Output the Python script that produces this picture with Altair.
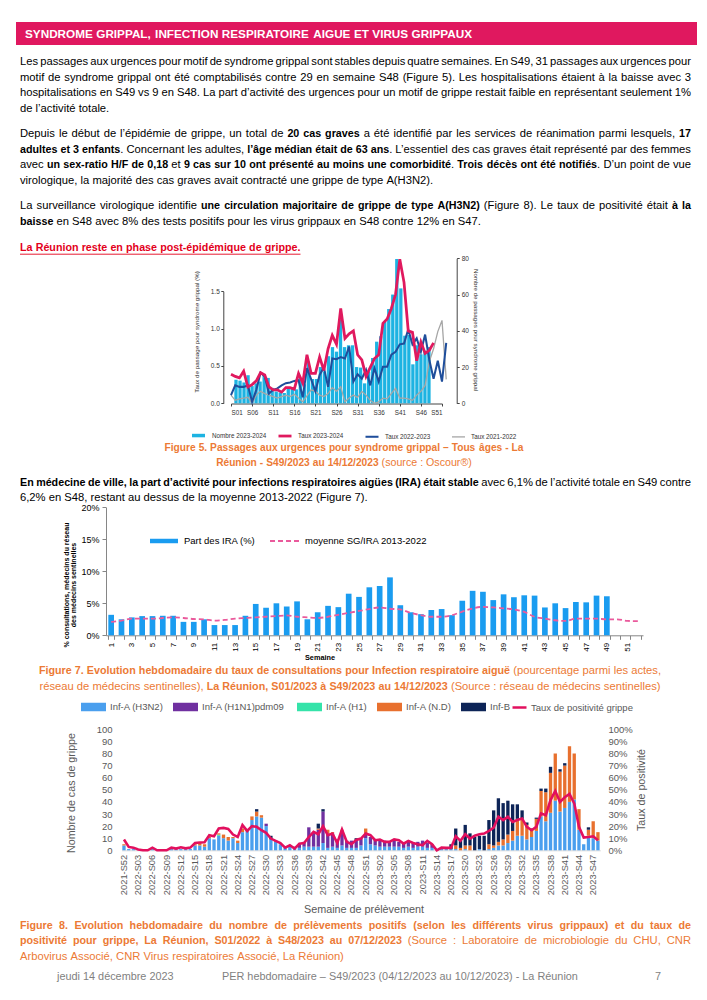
import statistics
import unicodedata
import altair as alt
import pandas as pd

FONT = "Liberation Sans"
OFF = 8
W, H = 691, 984

# ---------------- Figure 5 data ----------------
fig5_series = ["Nombre 2023-2024", "Taux 2023-2024", "Taux 2022-2023", "Taux 2021-2022"]
fig5_colors = ["#1DB3E2", "#E0195E", "#1F4E9B", "#A6A6A6"]
nombre_2023_2024 = [13, 12.5, 11.5, 15.5, 9.5, 11, 12, 16, 14, 8.5, 6.5, 6, 5.7, 8.3, 8.3, 7.7, 14, 10.5,
                    23, 13.4, 13.4, 20, 17.5, 26, 31, 28.5, 46, 31, 32, 32, 20, 19.7, 11, 17.5, 25, 34,
                    37, 45, 52, 60, 79.6, 63.4, 37.3, 37.7, 21.5, 32, 27, 29, 31]
taux_2023_2024 = [0.39, 0.36, 0.34, 0.43, 0.22, 0.25, 0.30, 0.41, 0.38, 0.22, 0.18, 0.18, 0.15, 0.21,
                  0.21, 0.19, 0.40, 0.27, 0.65, 0.40, 0.40, 0.62, 0.44, 0.73, 0.91, 0.79, 1.27, 0.87,
                  0.93, 0.97, 0.65, 0.58, 0.36, 0.48, 0.60, 0.65, 1.07, 1.13, 1.27, 1.46, 1.93, 1.62,
                  0.97, 0.95, 0.57, 0.82, 0.67, 0.71, 0.81]
taux_2022_2023 = [0.11, 0.24, 0.22, 0.22, 0.24, 0.02, 0.18, 0.41, 0.36, 0.13, 0.18, 0.20, 0.24, 0.27,
                  0.28, 0.30, 0.31, 0.08, 0.47, 0.32, 0.16, 0.38, 0.48, 0.22, 0.60, 0.59, 0.62, 0.60,
                  0.76, 0.29, 0.39, 0.33, 0.45, 0.24, 0.47, 0.29, 0.49, 0.49, 0.65, 0.69, 0.79, 0.80,
                  0.99, 0.79, 0.87, 0.69, 0.92, 0.58, 0.33, 0.57, 0.29, 0.81]
taux_2021_2022 = [0.11, 0.04, 0.06, 0.07, 0.08, 0.00, 0.11, 0.16, 0.13, 0.11, 0.09, 0.07, 0.09, 0.11,
                  0.09, 0.12, 0.07, 0.02, 0.10, 0.18, 0.16, 0.11, 0.09, 0.13, 0.21, 0.16, 0.22, 0.02,
                  0.07, 0.11, 0.08, 0.16, 0.11, 0.04, 0.00, 0.02, 0.07, 0.06, 0.13, 0.20, 0.07, 0.07,
                  0.06, 0.04, 0.11, 0.16, 0.24, 0.56, 0.73, 0.96, 1.11, 0.32]
fig5_ticks = [1, 6, 11, 16, 21, 26, 31, 36, 41, 46, 51]

# ---------------- Figure 7 data ----------------
fig7_weeks = [1, 2, 3, 4, 5, 6, 7, 8, 9, 10, 11, 12, 13, 14, 15, 16, 17, 18, 19, 20, 21, 22, 23, 24, 25, 26,
              27, 28, 29, 30, 31, 32, 33, 34, 35, 36, 37, 38, 39, 40, 41, 42, 43, 44, 45, 46, 47, 48, 49,
              50, 51, 52]
part_ira = [3.2, 2.5, 2.8, 3.0, 3.0, 3.05, 3.05, 2.1, 2.1, 2.5, 1.6, 1.6, 1.6, 3.05, 4.9, 4.3, 5.0, 4.5,
            5.3, 2.5, 3.6, 4.6, 4.4, 6.5, 6.0, 7.5, 7.7, 9.05, 4.7, 3.6, 3.3, 3.95, 4.1, 3.15, 5.4, 6.95,
            6.8, 5.5, 6.4, 5.95, 6.25, 6.2, 4.35, 5.0, 4.25, 5.2, 5.15, 6.2, 6.1]
moyenne_2013_2022 = [2.1, 2.3, 2.6, 2.6, 2.6, 2.7, 2.8, 2.7, 2.55, 2.5, 2.3, 2.4, 2.6, 2.7, 2.8, 2.9, 3.0,
                     3.1, 2.9, 2.8, 2.7, 2.9, 3.2, 3.5, 3.8, 4.1, 4.35, 4.15, 4.05, 3.5, 3.15, 2.9, 2.9,
                     3.15, 3.7, 4.2, 4.45, 4.35, 4.2, 4.05, 3.65, 2.9, 2.6, 2.35, 2.25, 2.6, 2.6, 2.6, 2.5,
                     2.5, 2.25, 2.2]

# ---------------- Figure 8 data ----------------
fig8_weeks = (["2021-S52"] + ["2022-S%02d" % w for w in range(1, 53)] + ["2023-S%02d" % w for w in range(1, 49)])
fig8_types = ["Inf-A (H3N2)", "Inf-A  (H1N1)pdm09", "Inf-A (H1)", "Inf-A (N.D)", "Inf-B"]
fig8_colors = ["#4A9FEE", "#7030A0", "#35E3A9", "#E8702E", "#0D2457"]
inf_h3n2 = [4, 1, 1, 0, 0, 0, 1, 0, 0, 0, 1, 1, 1, 1, 1, 4, 4, 3, 10, 9,
            12, 10, 8, 10, 6, 15, 16, 25, 28, 27, 20, 9, 7, 5, 2, 3, 2, 2, 3, 3,
            3, 3, 6, 2, 3, 2, 4, 2, 2, 2, 4, 10, 5, 4, 3, 3, 3, 3, 3, 2,
            3, 2, 3, 3, 2, 2, 1, 1, 1, 1, 1, 0, 1, 0, 0, 1, 0, 1, 2, 4,
            4, 6, 8, 12, 12, 9, 11, 16, 28, 24, 31, 41, 32, 35, 40, 42, 17, 5, 12, 10, 8]
inf_h1n1 = [0, 0, 0, 0, 0, 0, 0, 0, 0, 0, 0, 0, 0, 0, 0, 0, 0, 0, 0, 0,
            0, 0, 0, 0, 0, 0, 0, 0, 0, 0, 2, 0, 0, 0, 0, 0, 1, 3, 4, 16,
            12, 14, 26, 12, 11, 7, 12, 6, 6, 6, 6, 3, 6, 5, 5, 5, 4, 5, 4, 4,
            5, 4, 4, 5, 4, 3, 0, 0, 0, 0, 0, 0, 0, 0, 0, 0, 0, 0, 0, 0,
            0, 0, 0, 0, 0, 0, 0, 0, 0, 0, 0, 0, 0, 0, 0, 0, 0, 0, 0, 0, 0]
inf_h1 = [0, 0, 0, 0, 0, 0, 0, 0, 0, 0, 0, 0, 0, 0, 0, 0, 0, 0, 0, 0,
          1, 0, 0, 0, 0, 0, 0, 0, 0, 0, 0, 0, 0, 0, 0, 0, 0, 0, 0, 0,
          0, 0, 0, 0, 0, 0, 0, 0, 0, 0, 0, 0, 0, 0, 0, 0, 0, 0, 0, 0,
          0, 0, 0, 0, 0, 0, 0, 0, 0, 0, 0, 0, 0, 0, 0, 0, 0, 0, 0, 0,
          0, 0, 0, 0, 0, 0, 0, 0, 0, 0, 0, 0, 0, 0, 0, 0, 0, 0, 0, 0, 0]
inf_nd = [1, 0, 0, 0, 0, 0, 0, 0, 0, 0, 0, 0, 0, 0, 0, 1, 2, 2, 1, 0,
          1, 3, 3, 1, 2, 3, 1, 3, 4, 2, 0, 0, 1, 0, 0, 0, 0, 0, 0, 0,
          0, 1, 0, 3, 1, 0, 1, 0, 0, 0, 0, 5, 0, 0, 0, 0, 0, 0, 0, 0,
          0, 0, 0, 0, 0, 0, 0, 0, 1, 0, 3, 2, 3, 4, 0, 0, 0, 4, 2, 3,
          5, 7, 8, 14, 14, 12, 5, 10, 21, 24, 33, 39, 33, 35, 46, 38, 17, 0, 5, 14, 7]
inf_b = [0, 0, 0, 0, 0, 0, 0, 0, 0, 0, 0, 0, 0, 0, 0, 0, 0, 0, 0, 0,
         0, 0, 0, 0, 0, 0, 0, 0, 2, 0, 0, 3, 0, 0, 0, 0, 0, 0, 0, 0,
         0, 4, 2, 0, 0, 0, 0, 0, 0, 2, 0, 0, 0, 0, 0, 0, 0, 0, 0, 0,
         0, 0, 0, 0, 0, 0, 0, 1, 0, 4, 14, 6, 17, 10, 11, 11, 12, 20, 29, 36,
         30, 28, 22, 12, 7, 2, 2, 1, 2, 3, 5, 0, 2, 2, 0, 0, 0, 0, 2, 0, 0]
taux_positivite = [8.9, 2.8, 2.2, 0.6, 0, 0, 2.2, 0, 0, 0, 2.2, 1.4, 2.5, 1.6, 2.2, 6, 6.4, 6.6, 12.5, 11.6,
                   18, 18.5, 17.7, 13, 11, 20.8, 16, 20, 19.4, 16.6, 14.4, 9.7, 7.8, 6, 2.2, 4.2, 1.4, 5.5, 6, 11,
                   15.2, 13.3, 20, 12.5, 13.8, 6, 17.2, 7, 5, 8.6, 9.7, 13.8, 12.5, 8.3, 8.9, 7, 7, 9, 8.3, 5.5,
                   7.8, 6, 5, 4.2, 7.8, 5, 0, 2.2, 2, 2, 11.6, 7.8, 13.3, 9.7, 12, 13.3, 13.8, 16, 18.8, 27.7,
                   25, 27.7, 23.5, 25, 26.3, 19.4, 16.6, 19.4, 30.5, 29, 41.5, 49, 40, 43.8, 46.5, 38.8, 19.4,
                   10.5, 11, 11.6, 8.3]

# ---------------- text content ----------------
def B(s):
    return (s, True)


def R(s):
    return (s, False)


HEADER = "SYNDROME GRIPPAL, INFECTION RESPIRATOIRE AIGUE ET VIRUS GRIPPAUX"
P1 = [[R("Les passages aux urgences pour motif de syndrome grippal sont stables depuis quatre semaines. En S49, 31 passages aux urgences pour")],
      [R("motif de syndrome grippal ont été comptabilisés contre 29 en semaine S48 (Figure 5). Les hospitalisations étaient à la baisse avec 3")],
      [R("hospitalisations en S49 vs 9 en S48. La part d’activité des urgences pour un motif de grippe restait faible en représentant seulement 1%")],
      [R("de l’activité totale.")]]
P2 = [[R("Depuis le début de l’épidémie de grippe, un total de "), B("20 cas graves"), R(" a été identifié par les services de réanimation parmi lesquels, "), B("17")],
      [B("adultes et 3 enfants"), R(". Concernant les adultes, "), B("l’âge médian était de 63 ans"), R(". L’essentiel des cas graves était représenté par des femmes")],
      [R("avec "), B("un sex-ratio H/F de 0,18"), R(" et "), B("9 cas sur 10 ont présenté au moins une comorbidité"), R(". "), B("Trois décès ont été notifiés"), R(". D’un point de vue")],
      [R("virologique, la majorité des cas graves avait contracté une grippe de type A(H3N2).")]]
P3 = [[R("La surveillance virologique identifie "), B("une circulation majoritaire de grippe de type A(H3N2)"), R(" (Figure 8). Le taux de positivité était "), B("à la")],
      [B("baisse"), R(" en S48 avec 8% des tests positifs pour les virus grippaux en S48 contre 12% en S47.")]]
RED_LINE = "La Réunion reste en phase post-épidémique de grippe."
CAP5 = [[B("Figure 5. Passages aux urgences pour syndrome grippal – Tous âges - La")],
        [B("Réunion - S49/2023 au 14/12/2023"), R(" (source : Oscour®)")]]
P4 = [[B("En médecine de ville, la part d’activité pour infections respiratoires aigües (IRA) était stable"), R(" avec 6,1% de l’activité totale en S49 contre")],
      [R("6,2% en S48, restant au dessus de la moyenne 2013-2022 (Figure 7).")]]
CAP7 = [[B("Figure 7. Evolution hebdomadaire du taux de consultations pour Infection respiratoire aiguë"), R(" (pourcentage parmi les actes,")],
        [R("réseau de médecins sentinelles), "), B("La Réunion, S01/2023 à S49/2023 au 14/12/2023"), R(" (Source : réseau de médecins sentinelles)")]]
CAP8 = [[B("Figure 8. Evolution hebdomadaire du nombre de prélèvements positifs (selon les différents virus grippaux) et du taux de")],
        [B("positivité pour grippe, La Réunion, S01/2022 à S48/2023 au 07/12/2023"), R(" (Source : Laboratoire de microbiologie du CHU, CNR")],
        [R("Arbovirus Associé, CNR Virus respiratoires Associé, La Réunion)")]]
FOOTER = ["jeudi 14 décembre 2023", "PER hebdomadaire – S49/2023 (04/12/2023 au 10/12/2023) - La Réunion", "7"]

# ---------------- text metrics (Liberation Sans = Arial metrics) ----------------
def _mk(pairs):
    d = {}
    for chars, w in pairs:
        for c in chars:
            d[c] = w
    return d


REG = _mk([(" !,./:;I[]ft", 278), ("ijl", 222), ("r()-", 333), ("ckstvxyzJ", 500),
           ("abdeghnopqu0123456789L–?_", 556), ("w", 722), ("mM", 833), ("ABEKPSVXY", 667),
           ("CDHNRU", 722), ("FTZ", 611), ("GOQ", 778), ("W", 944), ("%", 889), ("'", 191),
           ("’‘", 222), ("®", 737)])
REG["s"] = 500
REG["t"] = 278
BOLD = _mk([(" ,./Iijl", 278), (":;!ft()-", 333), ("r", 389), ("z", 500),
            ("acekvxy0123456789J–s", 556), ("bdghnopquLFTZ?", 611), ("EPSVXY", 667),
            ("ABCDHKNRU", 722), ("wGOQ", 778), ("M", 833), ("m%", 889), ("W", 944), ("'", 238),
            ("’‘", 278), ("®", 737)])
BOLD["t"] = 333
BOLD["f"] = 333
BOLD_SCALE = 0.955   # Liberation bold is relatively wider than the original's bold face


def cw(c, bold):
    tab = BOLD if bold else REG
    if c in tab:
        return tab[c]
    base = unicodedata.normalize("NFD", c)[0]
    return tab.get(base, 556)


def text_w(s, bold, fs):
    return sum(cw(c, bold) for c in s) / 1000.0 * fs


def run_fs(fs, bold):
    return fs * BOLD_SCALE if bold else fs


def words_of(segs):
    chars = [(c, b) for t, b in segs for c in t]
    words, cur = [], []
    for c, b in chars:
        if c == " ":
            if cur:
                words.append(cur)
                cur = []
        else:
            cur.append((c, b))
    if cur:
        words.append(cur)
    out = []
    for w in words:
        runs = []
        for c, b in w:
            if runs and runs[-1][1] == b:
                runs[-1][0] += c
            else:
                runs.append([c, b])
        out.append(runs)
    return out


TEXT_L, TEXT_R = 20, 691
rows = []


def place(segs, y, fs, color, mode, x0=TEXT_L, x1=TEXT_R, cx=None):
    words = words_of(segs)
    ww = [sum(text_w(t, b, run_fs(fs, b)) for t, b in w) for w in words]
    sp = text_w(" ", False, fs)
    if mode == "justify" and len(words) > 1:
        gap = (x1 - x0 - sum(ww)) / (len(words) - 1)
        x = x0
    elif mode == "center":
        gap = sp
        x = cx - (sum(ww) + sp * (len(words) - 1)) / 2
    else:
        gap = sp
        x = x0
    start = x
    for w, wid in zip(words, ww):
        xx = x
        for t, b in w:
            f = run_fs(fs, b)
            rows.append(dict(x=xx - OFF, y=y - OFF, text=t, bold=b, size=f, color=color))
            xx += text_w(t, b, f)
        x += wid + gap
    return start, x - gap


def natural_em(segs):
    words = words_of(segs)
    return (sum(sum(text_w(t, b, run_fs(1, b)) for t, b in w) for w in words)
            + text_w(" ", False, 1) * (len(words) - 1))


just = [l for p in (P1, P2, P3, P4) for l in p[:-1]]
FS = round(statistics.median([(TEXT_R - TEXT_L) / natural_em(l) for l in just]), 2)

BLACK, ORANGE, REDC, GRAYF = "#000000", "#EC7A35", "#E3001B", "#7F7F7F"
LINE = 15.6


def paragraph(lines, y0, color=BLACK):
    for i, l in enumerate(lines):
        place(l, y0 + i * LINE, FS, color, "justify" if i < len(lines) - 1 else "left")


paragraph(P1, 62.0)
paragraph(P2, 134.2)
paragraph(P3, 206.4)
red_x0, red_x1 = place([B(RED_LINE)], 247.5, FS, REDC, "left")
place(CAP5[0], 447.7, FS * 0.95, ORANGE, "center", cx=344)
place(CAP5[1], 463.3, FS * 0.95, ORANGE, "center", cx=344)
paragraph(P4, 482.8)
place(CAP7[0], 671.0, FS, ORANGE, "center", cx=350)
place(CAP7[1], 686.6, FS, ORANGE, "center", cx=350)
for i, l in enumerate(CAP8):
    place(l, 925.5 + i * LINE, FS, ORANGE, "justify" if i < 2 else "left")
FFS = round(356 / text_w(FOOTER[1], False, 1), 2)
place([R(FOOTER[0])], 976.5, FFS, GRAYF, "left", x0=57)
place([R(FOOTER[1])], 976.5, FFS, GRAYF, "left", x0=222)
place([R(FOOTER[2])], 976.5, FFS, GRAYF, "left", x0=655)
HFS = round(447 / text_w(HEADER, True, 1), 2)
place([B(HEADER)], 33.8, HFS / BOLD_SCALE, "#FFFFFF", "left", x0=25)

tdf = pd.DataFrame(rows)


def text_layer(df, bold):
    return alt.Chart(df).mark_text(align="left", baseline="middle", font=FONT,
                                   fontWeight="bold" if bold else "normal").encode(
        x=alt.X("x:Q", scale=None, axis=None),
        y=alt.Y("y:Q", scale=None, axis=None),
        text="text:N",
        size=alt.Size("size:Q", scale=None, legend=None),
        color=alt.Color("color:N", scale=None, legend=None))


def label(text, x, y, size, color, angle=0, bold=False, align="center"):
    return alt.Chart(pd.DataFrame({"t": [text]})).mark_text(
        font=FONT, fontSize=size, color=color, angle=angle, align=align, baseline="middle",
        fontWeight="bold" if bold else "normal").encode(
        x=alt.value(x - OFF), y=alt.value(y - OFF), text="t:N")


layers = []
# header band
layers.append(alt.Chart(pd.DataFrame({"a": [0]})).mark_rect(color="#E0185F").encode(
    x=alt.value(16 - OFF), x2=alt.value(697 - OFF), y=alt.value(22 - OFF), y2=alt.value(45 - OFF)))
layers.append(text_layer(tdf[~tdf["bold"]], False))
layers.append(text_layer(tdf[tdf["bold"]], True))
layers.append(alt.Chart(pd.DataFrame({"a": [0]})).mark_rule(color=REDC, strokeWidth=0.9).encode(
    x=alt.value(red_x0 - OFF), x2=alt.value(red_x1 - OFF), y=alt.value(254.2 - OFF)))

# ---------------- Figure 5 ----------------
X5_1, X5_STEP = 231.0, 4.22
Y5_0, Y5_UNIT, Y5_80 = 403.3, 74.67, 258.3
AX5 = dict(labelFont=FONT, labelColor="#333333", domainColor="#444444", tickColor="#444444",
           tickSize=2.5, grid=False, title=None, labelFontSize=6.5)
x5 = alt.Scale(domain=[1, 51], range=[X5_1 - OFF, X5_1 + 50 * X5_STEP - OFF])
df5b = pd.DataFrame({"week": list(range(1, len(nombre_2023_2024) + 1)), "n": nombre_2023_2024})
layers.append(alt.Chart(df5b).mark_bar(color=fig5_colors[0], size=3.3).encode(
    x=alt.X("week:Q", scale=x5, axis=None),
    y=alt.Y("n:Q", scale=alt.Scale(domain=[0, 80], range=[Y5_0 - OFF, Y5_80 - OFF], nice=False),
            axis=alt.Axis(orient="right", offset=456.7 - OFF - W, values=[0, 20, 40, 60, 80],
                          labelPadding=2, **AX5))))
rows5 = []
for name, vals in ((fig5_series[3], taux_2021_2022), (fig5_series[2], taux_2022_2023),
                   (fig5_series[1], taux_2023_2024)):
    for i, v in enumerate(vals):
        rows5.append({"week": i + 1, "v": v, "serie": name})
df5l = pd.DataFrame(rows5)
LEG5 = dict(orient="none", legendX=190 - OFF, legendY=433.3 - OFF - 6.5, direction="horizontal",
            title=None, symbolType="stroke", symbolSize=169, labelFontSize=6.3, labelFont=FONT,
            labelColor="#333333", labelOffset=5, columnPadding=5, gridAlign="all", padding=0)
layers.append(alt.Chart(df5l).mark_line().encode(
    x=alt.X("week:Q", scale=x5,
            axis=alt.Axis(orient="bottom", offset=403.5 - OFF - H, values=fig5_ticks,
                          labelExpr="'S' + (datum.value < 10 ? '0' : '') + datum.value",
                          labelPadding=3.5, **dict(AX5, labelFontSize=6.3))),
    y=alt.Y("v:Q", scale=alt.Scale(domain=[0, 1.5], range=[Y5_0 - OFF, Y5_0 - 1.5 * Y5_UNIT - OFF], nice=False),
            axis=alt.Axis(orient="left", offset=-(223.3 - OFF), values=[0, 0.5, 1, 1.5], format=".1f",
                          labelPadding=1.5, **AX5)),
    color=alt.Color("serie:N", scale=alt.Scale(domain=fig5_series, range=fig5_colors),
                    legend=alt.Legend(**LEG5)),
    strokeWidth=alt.StrokeWidth("serie:N", scale=alt.Scale(domain=fig5_series, range=[3.5, 1.3, 1.0, 0.8]),
                                legend=alt.Legend(**LEG5)),
    order=alt.Order("week:Q")))
layers.append(label("Taux de passage pour syndrome grippal (%)", 197, 332, 6.2, "#333333", angle=270))
layers.append(label("Nombre de passages pour syndrome grippal", 476, 330, 6.2, "#333333", angle=90))

# ---------------- Figure 7 ----------------
Y7_0, Y7_20 = 635.3, 507.3
x7 = alt.Scale(domain=fig7_weeks, range=[106 - OFF, 643 - OFF], paddingInner=0.45, paddingOuter=0.225)
y7 = alt.Scale(domain=[0, 20], range=[Y7_0 - OFF, Y7_20 - OFF], nice=False)
df7b = pd.DataFrame({"week": fig7_weeks[:len(part_ira)], "v": part_ira, "lab": "Part des IRA (%)"})
layers.append(alt.Chart(df7b).mark_bar().encode(
    x=alt.X("week:O", scale=x7,
            axis=alt.Axis(orient="bottom", offset=Y7_0 - OFF - H, tickBand="extent", tickSize=4,
                          labelAngle=-90, labelExpr="datum.value % 2 == 1 ? datum.label : ''",
                          labelFontSize=8, labelFont=FONT, labelColor="#000000", labelPadding=3,
                          domainColor="#868686", tickColor="#868686", labelOverlap=False,
                          grid=False, title=None)),
    y=alt.Y("v:Q", scale=y7,
            axis=alt.Axis(orient="left", offset=-(106 - OFF), values=[0, 5, 10, 15, 20],
                          labelExpr="datum.value + '%'", tickSize=4, labelPadding=3, labelFontSize=9,
                          labelFont=FONT, labelColor="#000000", domainColor="#868686",
                          tickColor="#868686", grid=False, title=None)),
    color=alt.Color("lab:N", scale=alt.Scale(domain=["Part des IRA (%)"], range=["#1A9CF0"]),
                    legend=alt.Legend(orient="none", legendX=149 - OFF, legendY=540 - OFF - 14,
                                      title=None, symbolType="M-1,-0.16H1V0.16H-1Z", symbolSize=784,
                                      labelFontSize=9.5, labelFont=FONT, labelColor="#000000",
                                      labelOffset=5, padding=0))))
df7l = pd.DataFrame({"week": fig7_weeks, "m": moyenne_2013_2022, "lab": "moyenne SG/IRA 2013-2022"})
layers.append(alt.Chart(df7l).mark_line(strokeDash=[5, 3], strokeWidth=1.8, interpolate="monotone").encode(
    x=alt.X("week:O", scale=x7, axis=None),
    y=alt.Y("m:Q", scale=y7, axis=None),
    color=alt.Color("lab:N", scale=alt.Scale(domain=["moyenne SG/IRA 2013-2022"], range=["#EA5A9C"]),
                    legend=alt.Legend(orient="none", legendX=269 - OFF, legendY=540 - OFF - 15,
                                      title=None, symbolType="stroke", symbolSize=900,
                                      symbolDash=[5, 3], symbolStrokeWidth=1.8,
                                      labelFontSize=9.5, labelFont=FONT, labelColor="#000000",
                                      labelOffset=4, padding=0))))
layers.append(label("% consultations, médecins du réseau", 67, 585, 7, "#000000", angle=270, bold=True))
layers.append(label("des médecins sentinelles", 74, 585, 7, "#000000", angle=270, bold=True))
layers.append(label("Semaine", 320, 658, 7.3, "#000000", bold=True))

# ---------------- Figure 8 ----------------
Y8_0, Y8_100 = 850.3, 729.3
x8 = alt.Scale(domain=fig8_weeks, range=[121.6 - OFF, 600.3 - OFF], paddingInner=0.3, paddingOuter=0.15)
rows8 = []
for k, (t, vals) in enumerate(zip(fig8_types, (inf_h3n2, inf_h1n1, inf_h1, inf_nd, inf_b))):
    for i, v in enumerate(vals):
        rows8.append({"wk": fig8_weeks[i], "type": t, "n": v, "ord": k})
df8 = pd.DataFrame(rows8)
GRAY8 = "#595959"
layers.append(alt.Chart(df8).mark_bar().encode(
    x=alt.X("wk:O", scale=x8,
            axis=alt.Axis(orient="bottom", offset=Y8_0 - OFF - H, values=fig8_weeks[::3], labelAngle=-90,
                          labelFontSize=9.3, labelFont=FONT, labelColor=GRAY8, ticks=False,
                          domainColor="#D9D9D9", labelPadding=4, labelOverlap=False, grid=False,
                          title=None)),
    y=alt.Y("sum(n):Q", stack=True, scale=alt.Scale(domain=[0, 100], range=[Y8_0 - OFF, Y8_100 - OFF], nice=False),
            axis=alt.Axis(orient="left", offset=-(116 - OFF), values=[0, 10, 20, 30, 40, 50, 60, 70, 80, 90, 100],
                          domain=False, ticks=False, labelPadding=4, labelFontSize=9.5, labelFont=FONT,
                          labelColor=GRAY8, grid=False, title=None)),
    color=alt.Color("type:N", scale=alt.Scale(domain=fig8_types, range=fig8_colors),
                    legend=alt.Legend(orient="none", legendX=80 - OFF, legendY=706 - OFF - 12.5,
                                      direction="horizontal", title=None,
                                      symbolType="M-1,-0.34H1V0.34H-1Z", symbolSize=625,
                                      labelFontSize=9.5, labelFont=FONT, labelColor=GRAY8,
                                      labelOffset=3, columnPadding=8, padding=0)),
    order=alt.Order("ord:Q", sort="ascending")))
df8l = pd.DataFrame({"wk": fig8_weeks, "p": taux_positivite, "lab": "Taux de positivité grippe"})
layers.append(alt.Chart(df8l).mark_line(strokeWidth=2.6).encode(
    x=alt.X("wk:O", scale=x8, axis=None),
    y=alt.Y("p:Q", scale=alt.Scale(domain=[0, 100], range=[Y8_0 - OFF, Y8_100 - OFF], nice=False),
            axis=alt.Axis(orient="right", offset=(603 - OFF) - W, values=[0, 10, 20, 30, 40, 50, 60, 70, 80, 90, 100],
                          labelExpr="datum.value + '%'", domain=False, ticks=False, labelPadding=5,
                          labelFontSize=9.5, labelFont=FONT, labelColor=GRAY8, grid=False, title=None)),
    color=alt.Color("lab:N", scale=alt.Scale(domain=["Taux de positivité grippe"], range=["#E2105E"]),
                    legend=alt.Legend(orient="none", legendX=511 - OFF, legendY=706 - OFF - 7,
                                      title=None, symbolType="stroke", symbolSize=196,
                                      symbolStrokeWidth=2.5, labelFontSize=9.5, labelFont=FONT,
                                      labelColor=GRAY8, labelOffset=3, padding=0))))
layers.append(label("Nombre de cas de grippe", 72, 793, 10.7, GRAY8, angle=270))
layers.append(label("Taux de positivité", 642, 790, 10.7, GRAY8, angle=270))
layers.append(label("Semaine de prélèvement", 364, 909.5, 10.8, GRAY8))

chart = alt.layer(*layers).resolve_scale(
    x="independent", y="independent", color="independent", size="independent", strokeWidth="independent"
).properties(
    width=W, height=H, padding=0, autosize=alt.AutoSizeParams(type="none")
).configure_view(stroke=None)

chart.save("out.html", embed_options={"renderer": "svg", "actions": False})
